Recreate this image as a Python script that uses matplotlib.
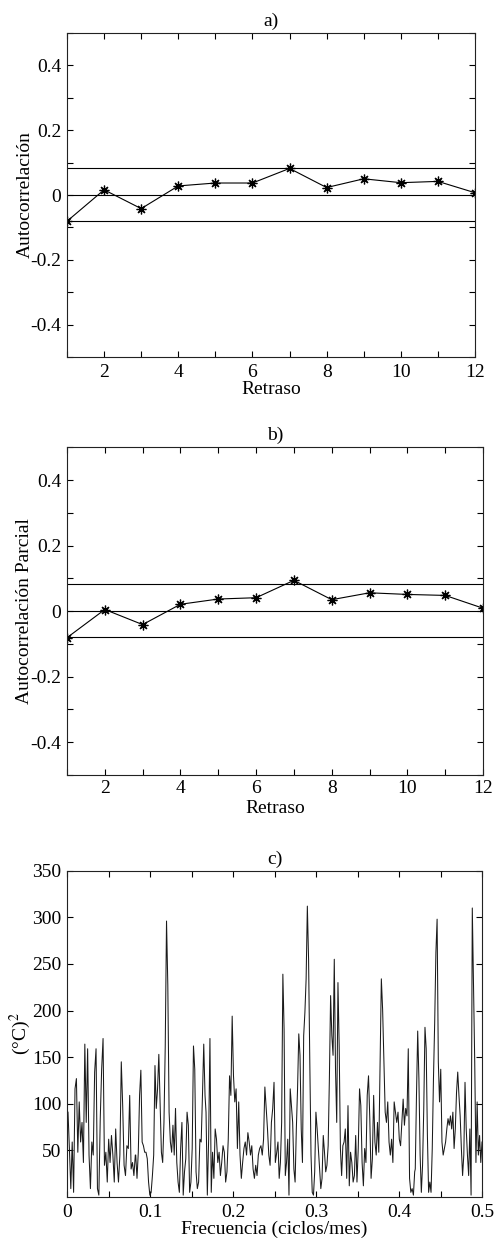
import matplotlib
matplotlib.use('Agg')
import matplotlib.pyplot as plt
import numpy as np

plt.rcParams['font.family'] = ['Liberation Serif', 'DejaVu Serif']
plt.rcParams['font.size'] = 14
plt.rcParams['mathtext.fontset'] = 'stix'
plt.rcParams['axes.unicode_minus'] = False

# ---------------- data ----------------
lags = list(range(1, 13))
acf = [-0.081, 0.016, -0.042, 0.028, 0.037, 0.037, 0.082, 0.023, 0.050, 0.038, 0.042, 0.007]
pacf = [-0.081, 0.005, -0.041, 0.021, 0.037, 0.041, 0.094, 0.035, 0.056, 0.051, 0.048, 0.009]
conf_upper = 0.082
conf_lower = -0.079

# periodogram, read in six consecutive frequency segments
seg_ranges = [(0.0012, 0.0823), (0.0828, 0.1663), (0.1675, 0.2510),
              (0.2527, 0.3353), (0.3370, 0.4189), (0.4196, 0.5000)]
seg1 = [91, 52, 9, 59, 5, 116, 127, 48, 102, 59, 80, 37, 164, 80, 159, 45, 9, 59, 45, 134,
        159, 9, 2, 84, 137, 170, 34, 48, 16, 62, 37, 66, 45, 16, 73, 37, 16, 45, 145, 98,
        34, 23, 55, 52, 109, 30, 37, 23, 45]
seg2 = [45, 20, 48, 109, 136, 59, 55, 48, 48, 41, 16, 2, 5, 23, 45, 141, 95, 116, 153, 102,
        48, 37, 80, 162, 296, 227, 91, 59, 48, 77, 45, 95, 37, 16, 5, 52, 80, 2, 27, 41,
        91, 77, 5, 16, 52, 162, 137, 27, 9, 16, 62, 59, 109, 164, 109]
seg3 = [91, 2, 62, 170, 5, 48, 20, 73, 62, 37, 48, 23, 37, 55, 48, 16, 27, 62, 130, 109,
        194, 130, 102, 116, 52, 102, 45, 20, 37, 52, 59, 45, 69, 59, 45, 55, 30, 20, 34, 23,
        45, 52, 55, 45, 62, 118, 95, 73, 45, 34, 80, 95, 123, 37]
seg4 = [48, 59, 20, 37, 80, 239, 180, 23, 37, 62, 2, 116, 98, 80, 30, 16, 73, 116, 175, 152,
        73, 37, 173, 198, 234, 312, 255, 145, 45, 5, 2, 27, 91, 73, 52, 30, 9, 20, 66, 48,
        27, 34, 55, 127, 216, 173, 152, 255, 137, 80, 230, 162, 52, 23, 55, 59, 73]
seg5 = [20, 98, 12, 48, 37, 16, 23, 66, 16, 52, 116, 98, 37, 12, 52, 37, 109, 130, 84, 20,
        41, 109, 59, 45, 80, 48, 145, 234, 201, 145, 91, 80, 102, 59, 45, 62, 37, 102, 91, 80,
        91, 62, 55, 80, 105, 77, 95, 87, 159, 20, 5, 9, 2, 27]
seg6 = [30, 109, 178, 127, 45, 5, 34, 95, 182, 159, 66, 5, 16, 5, 52, 127, 187, 262, 298, 145,
        102, 137, 59, 45, 52, 59, 73, 84, 77, 87, 73, 91, 52, 73, 112, 134, 109, 87, 52, 23,
        45, 123, 73, 45, 23, 73, 2, 310, 230, 145, 37, 102, 45, 66, 37, 59]
segments = [seg1, seg2, seg3, seg4, seg5, seg6]

freq = np.concatenate([np.linspace(a, b, len(s)) for (a, b), s in zip(seg_ranges, segments)])
power = np.concatenate([np.array(s, dtype=float) for s in segments])

# ---------------- figure ----------------
W, H = 497, 1238
fig = plt.figure(figsize=(W / 100, H / 100), dpi=100)
ax1 = fig.add_axes([67 / W, 1 - 357 / H, 408 / W, 324 / H])
ax2 = fig.add_axes([67 / W, 1 - 775 / H, 416 / W, 327.7 / H])
ax3 = fig.add_axes([67 / W, 1 - 1197 / H, 415 / W, 326.3 / H])

ASTERISK = (8, 2, 0)


def base_style(ax, xpad):
    ax.tick_params(axis='both', direction='in', top=True, right=True,
                   length=4, width=0.8, color='k')
    ax.tick_params(axis='x', pad=xpad)
    ax.tick_params(axis='y', pad=4)
    for s in ax.spines.values():
        s.set_linewidth(0.8)
        s.set_color('#222222')


def corr_panel(ax, values, ylabel, title, xpad, xlabelpad):
    ax.plot(lags, values, '-', color='k', lw=0.8, marker=ASTERISK, ms=7, mew=0.9)
    ax.axhline(0, color='k', lw=0.8)
    ax.axhline(conf_upper, color='k', lw=0.8)
    ax.axhline(conf_lower, color='k', lw=0.8)
    ax.set_xlim(1, 12)
    ax.set_ylim(-0.5, 0.5)
    ax.set_xticks(lags)
    ax.set_xticklabels([str(v) if v % 2 == 0 else '' for v in lags])
    yt = [-0.5, -0.4, -0.3, -0.2, -0.1, 0, 0.1, 0.2, 0.3, 0.4, 0.5]
    ylab = {-0.4: '-0.4', -0.2: '-0.2', 0: '0', 0.2: '0.2', 0.4: '0.4'}
    ax.set_yticks(yt)
    ax.set_yticklabels([ylab.get(v, '') for v in yt])
    base_style(ax, xpad)
    ax.set_xlabel('Retraso', labelpad=xlabelpad)
    ax.set_ylabel(ylabel)
    ax.yaxis.set_label_coords(-0.082, 0.5)
    ax.set_title(title, pad=5, fontsize=14)


corr_panel(ax1, acf, 'Autocorrelación', 'a)', 5, 0)
corr_panel(ax2, pacf, 'Autocorrelación Parcial', 'b)', 3.5, 2)

ax3.plot(freq, power, '-', color='#1a1a1a', lw=0.75)
ax3.set_xlim(0, 0.5)
ax3.set_ylim(0, 350)
xt = [0, 0.05, 0.1, 0.15, 0.2, 0.25, 0.3, 0.35, 0.4, 0.45, 0.5]
xlab = {0: '0', 0.1: '0.1', 0.2: '0.2', 0.3: '0.3', 0.4: '0.4', 0.5: '0.5'}
ax3.set_xticks(xt)
ax3.set_xticklabels([xlab.get(v, '') for v in xt])
yt3 = [50, 100, 150, 200, 250, 300, 350]
ax3.set_yticks(yt3)
ax3.set_yticklabels([str(v) for v in yt3])
base_style(ax3, 4.7)
ax3.set_xlabel('Frecuencia (ciclos/mes)', labelpad=0)
ax3.set_ylabel('(°C)$^2$')
ax3.yaxis.set_label_coords(-0.082, 0.5)
ax3.set_title('c)', pad=5, fontsize=14)

fig.savefig('out.png', dpi=100)
